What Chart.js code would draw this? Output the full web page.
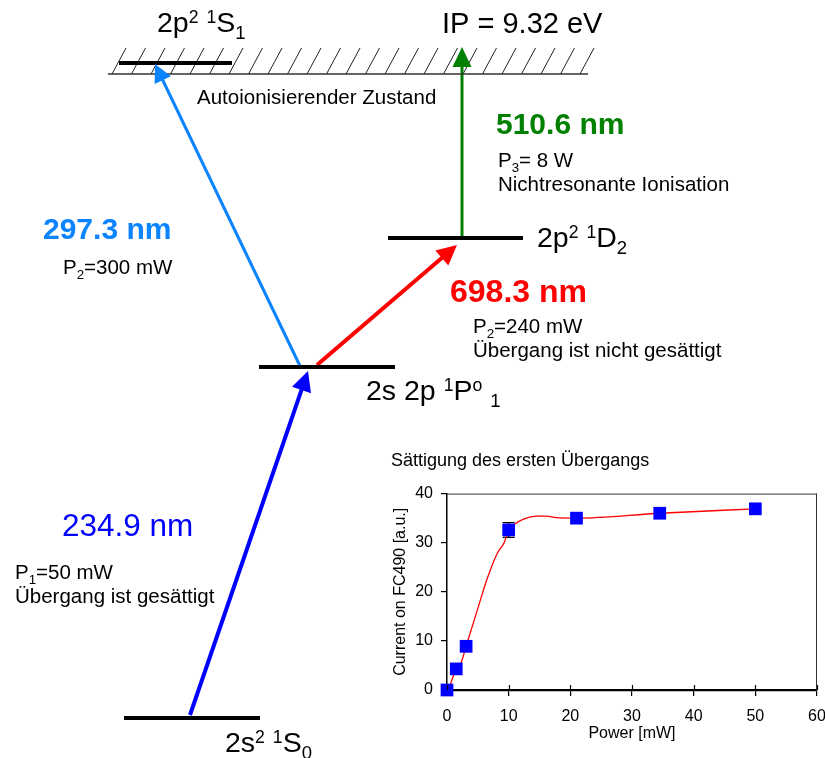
<!DOCTYPE html>
<html>
<head>
<meta charset="utf-8">
<script src="https://cdn.jsdelivr.net/npm/chart.js@4.4.1/dist/chart.umd.min.js"></script>
<style>
  html, body { margin: 0; padding: 0; background: #fff; overflow: hidden; }
  #wrap { position: relative; width: 825px; height: 758px; overflow: hidden; background: #fff; }
  #main { position: absolute; left: 0; top: 0; }
  #inset { position: absolute; left: 380px; top: 440px; }
</style>
</head>
<body>
<div id="wrap">
  <canvas id="main" width="825" height="758"></canvas>
  <canvas id="inset" width="470" height="318"></canvas>
</div>
<script>
// ================= DATA =================
// Energy-level diagram (diagram units; y grows downward)
const levelNames = ['2s^2 ^1S_0', '2s 2p ^1P^o _1', '2p^2 ^1D_2', '2p^2 ^1S_1'];
const levelY  = [718, 367, 238, 63];
const levelX1 = [124, 259, 388, 119];
const levelX2 = [260, 395, 523, 232];

const ionLimitText = 'IP = 9.32 eV';
const ionLimitY = 74;
const ionLimitX = [108, 588];
const autoionText = 'Autoionisierender Zustand';

const transWavelength = ['234.9 nm', '297.3 nm', '698.3 nm', '510.6 nm'];
const transPower = ['P_1=50 mW', 'P_2=300 mW', 'P_2=240 mW', 'P_3= 8 W'];
const transNote = ['Übergang ist gesättigt', '', 'Übergang ist nicht gesättigt', 'Nichtresonante Ionisation'];
const transFrom  = [0, 1, 1, 2];      // lower level index
const transTo    = [1, 3, 2, -1];     // upper level index, -1 = ionisation limit
const transFromX = [190, 300, 317, 462];
const transToX   = [308, 155, 457, 462];

// Inset: saturation of the first transition
const insetTitle = 'Sättigung des ersten Übergangs';
const powerMW   = [0, 1.5, 3.1, 10.0, 21.0, 34.5, 50.0];
const currentAU = [0, 4.3, 8.9, 32.6, 35.0, 36.0, 36.9];
const currentErr = [0, 0, 0, 1.5, 0, 0, 0];
const fitPowerMW   = [0.3, 1.5, 2.3, 3.1, 4.8, 6.5, 8.1, 9.3, 10.0, 10.8, 12.4, 14.5, 16.1, 17.7, 21.0, 34.5, 50.0];
const fitCurrentAU = [0.3, 4.3, 5.6, 8.9, 15.8, 22.6, 27.7, 30.1, 32.6, 33.6, 34.8, 35.4, 35.4, 35.1, 35.0, 36.0, 36.9];
const xTicks = [0, 10, 20, 30, 40, 50, 60];
const yTicks = [0, 10, 20, 30, 40];
const xTitle = 'Power [mW]';
const yTitle = 'Current on FC490 [a.u.]';

// ================= STYLE / LAYOUT =================
const FONT = "'Liberation Sans', Arial, Helvetica, sans-serif";
Chart.defaults.font.family = FONT;

const transColor = ['#0000FF', '#0A84FF', '#FF0000', '#008000'];
const transWidth = [4, 3, 4, 3];
const headLen  = [20, 18, 20, 20];
const headHalf = [10, 9, 10, 9.5];
const startGap = [-3, -1, -2, 0];
const tipGap   = [4, 1, 7, -27];
const hatch = { step: 19.5, height: 26, slant: 14, first: 112 };

const levelLabelPos = [[225, 752], [366, 400], [537, 247], [157, 32]];
const levelLabelSize = 28.5;
const ionLabelPos = [442, 33];
const autoionPos = [197, 104];
const wlPos = [[62, 536], [43, 239], [450, 302], [496, 134]];
const wlStyle = [{ w: 'normal', s: 31.5 }, { w: 'bold', s: 30 }, { w: 'bold', s: 32 }, { w: 'bold', s: 30 }];
const powerPos = [[15, 579], [63, 274], [473, 333], [498, 167]];
const smallSize = 20.5;
const noteGap = 24;

// ================= HELPERS =================
function parseRich(str) {
  const segs = [];
  for (let i = 0; i < str.length; i++) {
    let type = 'n', ch = str[i];
    if ((ch === '^' || ch === '_') && i + 1 < str.length) {
      type = ch === '^' ? 'sup' : 'sub';
      ch = str[++i];
    }
    const last = segs[segs.length - 1];
    if (last && last.type === type) last.text += ch; else segs.push({ type, text: ch });
  }
  return segs;
}
function drawRich(ctx, str, x, y, size, weight, color) {
  ctx.save();
  ctx.fillStyle = color;
  ctx.textBaseline = 'alphabetic';
  ctx.textAlign = 'left';
  let cx = x;
  for (const seg of parseRich(str)) {
    let fs = size, dy = 0;
    if (seg.type === 'sup') { fs = size * 0.62; dy = -size * 0.33; }
    if (seg.type === 'sub') { fs = size * 0.65; dy = size * 0.26; }
    ctx.font = `${weight} ${fs}px ${FONT}`;
    ctx.fillText(seg.text, cx, y + dy);
    cx += ctx.measureText(seg.text).width;
  }
  ctx.restore();
}
function targetY(i) {
  return (transTo[i] < 0 ? ionLimitY : levelY[transTo[i]]) + tipGap[i];
}
function sourceY(i) { return levelY[transFrom[i]] + startGap[i]; }

// ================= MAIN DIAGRAM =================
const mainDatasets = [];
// levels
for (let i = 0; i < levelY.length; i++) {
  mainDatasets.push({
    data: [{ x: levelX1[i], y: levelY[i] }, { x: levelX2[i], y: levelY[i] }],
    showLine: true, borderColor: '#000', borderWidth: 4, pointRadius: 0, borderCapStyle: 'butt'
  });
}
// ionisation limit baseline
mainDatasets.push({
  data: [{ x: ionLimitX[0], y: ionLimitY }, { x: ionLimitX[1], y: ionLimitY }],
  showLine: true, borderColor: '#333', borderWidth: 1.3, pointRadius: 0
});
// transition shafts (end inside the arrow head)
for (let i = 0; i < transFrom.length; i++) {
  const x0 = transFromX[i], y0 = sourceY(i), x1 = transToX[i], y1 = targetY(i);
  const d = Math.hypot(x1 - x0, y1 - y0);
  const ux = (x1 - x0) / d, uy = (y1 - y0) / d;
  const back = headLen[i] * 0.6;
  mainDatasets.push({
    data: [{ x: x0, y: y0 }, { x: x1 - ux * back, y: y1 - uy * back }],
    showLine: true, borderColor: transColor[i], borderWidth: transWidth[i], pointRadius: 0, borderCapStyle: 'butt'
  });
}

const diagramPlugin = {
  id: 'diagram',
  beforeDatasetsDraw(chart) {
    const { ctx, scales: { x, y } } = chart;
    // hatching above the ionisation limit
    ctx.save();
    ctx.strokeStyle = '#222';
    ctx.lineWidth = 1;
    for (let hx = hatch.first; hx <= ionLimitX[1]; hx += hatch.step) {
      ctx.beginPath();
      ctx.moveTo(x.getPixelForValue(hx), y.getPixelForValue(ionLimitY));
      ctx.lineTo(x.getPixelForValue(hx + hatch.slant), y.getPixelForValue(ionLimitY - hatch.height));
      ctx.stroke();
    }
    ctx.restore();
  },
  afterDatasetsDraw(chart) {
    const { ctx, scales: { x, y } } = chart;
    // arrow heads
    for (let i = 0; i < transFrom.length; i++) {
      const px0 = x.getPixelForValue(transFromX[i]), py0 = y.getPixelForValue(sourceY(i));
      const px1 = x.getPixelForValue(transToX[i]), py1 = y.getPixelForValue(targetY(i));
      const d = Math.hypot(px1 - px0, py1 - py0);
      const ux = (px1 - px0) / d, uy = (py1 - py0) / d;
      const nx = -uy, ny = ux;
      const bx = px1 - ux * headLen[i], by = py1 - uy * headLen[i];
      ctx.save();
      ctx.fillStyle = transColor[i];
      ctx.beginPath();
      ctx.moveTo(px1, py1);
      ctx.lineTo(bx + nx * headHalf[i], by + ny * headHalf[i]);
      ctx.lineTo(bx - nx * headHalf[i], by - ny * headHalf[i]);
      ctx.closePath();
      ctx.fill();
      ctx.restore();
    }
    // level labels
    for (let i = 0; i < levelNames.length; i++) {
      drawRich(ctx, levelNames[i], x.getPixelForValue(levelLabelPos[i][0]), y.getPixelForValue(levelLabelPos[i][1]), levelLabelSize, 'normal', '#000');
    }
    drawRich(ctx, ionLimitText, x.getPixelForValue(ionLabelPos[0]), y.getPixelForValue(ionLabelPos[1]), 29, 'normal', '#000');
    drawRich(ctx, autoionText, x.getPixelForValue(autoionPos[0]), y.getPixelForValue(autoionPos[1]), smallSize, 'normal', '#000');
    // transition labels
    for (let i = 0; i < transWavelength.length; i++) {
      drawRich(ctx, transWavelength[i], x.getPixelForValue(wlPos[i][0]), y.getPixelForValue(wlPos[i][1]), wlStyle[i].s, wlStyle[i].w, transColor[i]);
      const px = x.getPixelForValue(powerPos[i][0]);
      drawRich(ctx, transPower[i], px, y.getPixelForValue(powerPos[i][1]), smallSize, 'normal', '#000');
      if (transNote[i]) drawRich(ctx, transNote[i], px, y.getPixelForValue(powerPos[i][1] + noteGap), smallSize, 'normal', '#000');
    }
  }
};

new Chart(document.getElementById('main'), {
  type: 'scatter',
  data: { datasets: mainDatasets },
  options: {
    responsive: false, animation: false, events: [],
    layout: { padding: 0 },
    plugins: { legend: { display: false }, tooltip: { enabled: false }, title: { display: false } },
    scales: {
      x: { type: 'linear', min: 0, max: 825, display: false },
      y: { type: 'linear', min: 0, max: 758, reverse: true, display: false }
    }
  },
  plugins: [diagramPlugin]
});

// ================= INSET CHART =================
const insetPlugin = {
  id: 'insetExtras',
  beforeDatasetsDraw(chart) {
    const { ctx, scales: { x, y } } = chart;
    ctx.save();
    ctx.strokeStyle = '#000';
    ctx.lineWidth = 1.3;
    for (let i = 0; i < powerMW.length; i++) {
      if (!currentErr[i]) continue;
      const px = x.getPixelForValue(powerMW[i]);
      const yl = y.getPixelForValue(currentAU[i] - currentErr[i]);
      const yh = y.getPixelForValue(currentAU[i] + currentErr[i]);
      ctx.beginPath();
      ctx.moveTo(px, yl); ctx.lineTo(px, yh);
      ctx.moveTo(px - 6, yl); ctx.lineTo(px + 6, yl);
      ctx.moveTo(px - 6, yh); ctx.lineTo(px + 6, yh);
      ctx.stroke();
    }
    ctx.restore();
  },
  afterDraw(chart) {
    const { ctx, chartArea: a, scales: { x } } = chart;
    ctx.save();
    ctx.strokeStyle = '#333';
    ctx.lineWidth = 1;
    ctx.beginPath();
    ctx.moveTo(a.left, a.top + 0.5); ctx.lineTo(a.right, a.top + 0.5);
    ctx.moveTo(a.right - 0.5, a.top); ctx.lineTo(a.right - 0.5, a.bottom);
    ctx.stroke();
    // inner part of x ticks
    ctx.strokeStyle = '#000';
    ctx.lineWidth = 1.2;
    ctx.beginPath();
    for (const v of xTicks) {
      const px = Math.round(x.getPixelForValue(v)) + 0.5;
      ctx.moveTo(px, a.bottom - 5); ctx.lineTo(px, a.bottom);
    }
    ctx.stroke();
    ctx.restore();
  }
};

new Chart(document.getElementById('inset'), {
  type: 'scatter',
  data: {
    datasets: [
      {
        label: 'Messung',
        data: powerMW.map((v, i) => ({ x: v, y: currentAU[i] })),
        showLine: false, pointStyle: 'rect', pointRadius: 9, clip: false,
        pointBackgroundColor: '#0000FF', pointBorderColor: '#0000FF', pointBorderWidth: 0
      },
      {
        label: 'Fit',
        data: fitPowerMW.map((v, i) => ({ x: v, y: fitCurrentAU[i] })),
        showLine: true, borderColor: '#FF0000', borderWidth: 1.3, pointRadius: 0,
        cubicInterpolationMode: 'monotone', fill: false
      }
    ]
  },
  options: {
    responsive: false, animation: false, events: [],
    layout: { padding: { left: 11, right: 33, top: 0, bottom: 0 } },
    plugins: {
      legend: { display: false }, tooltip: { enabled: false },
      title: {
        display: true, text: insetTitle, align: 'start', color: '#000',
        font: { size: 18, weight: 'normal' }, padding: { top: 10, bottom: 22 }
      }
    },
    scales: {
      x: {
        type: 'linear', min: 0, max: 60,
        afterBuildTicks: s => { s.ticks = xTicks.map(v => ({ value: v })); },
        afterFit: s => { s.height = 68; },
        ticks: { color: '#000', font: { size: 16 }, padding: 11, maxRotation: 0, autoSkip: false },
        grid: { display: true, drawOnChartArea: false, drawTicks: true, tickLength: 6, color: '#000', lineWidth: 1.2 },
        border: { display: true, color: '#000', width: 2.2 },
        title: { display: true, text: xTitle, color: '#000', font: { size: 16 }, padding: { top: 0, bottom: 15 } }
      },
      y: {
        type: 'linear', min: 0, max: 40,
        afterBuildTicks: s => { s.ticks = yTicks.map(v => ({ value: v })); },
        afterFit: s => { s.width = 56; },
        ticks: { color: '#000', font: { size: 16 }, padding: 8, autoSkip: false },
        grid: { display: true, drawOnChartArea: false, drawTicks: true, tickLength: 6, color: '#000', lineWidth: 1.2 },
        border: { display: true, color: '#000', width: 1.5 },
        title: { display: true, text: yTitle, color: '#000', font: { size: 16 }, padding: { top: 0, bottom: 0 } }
      }
    }
  },
  plugins: [insetPlugin]
});
</script>
</body>
</html>
